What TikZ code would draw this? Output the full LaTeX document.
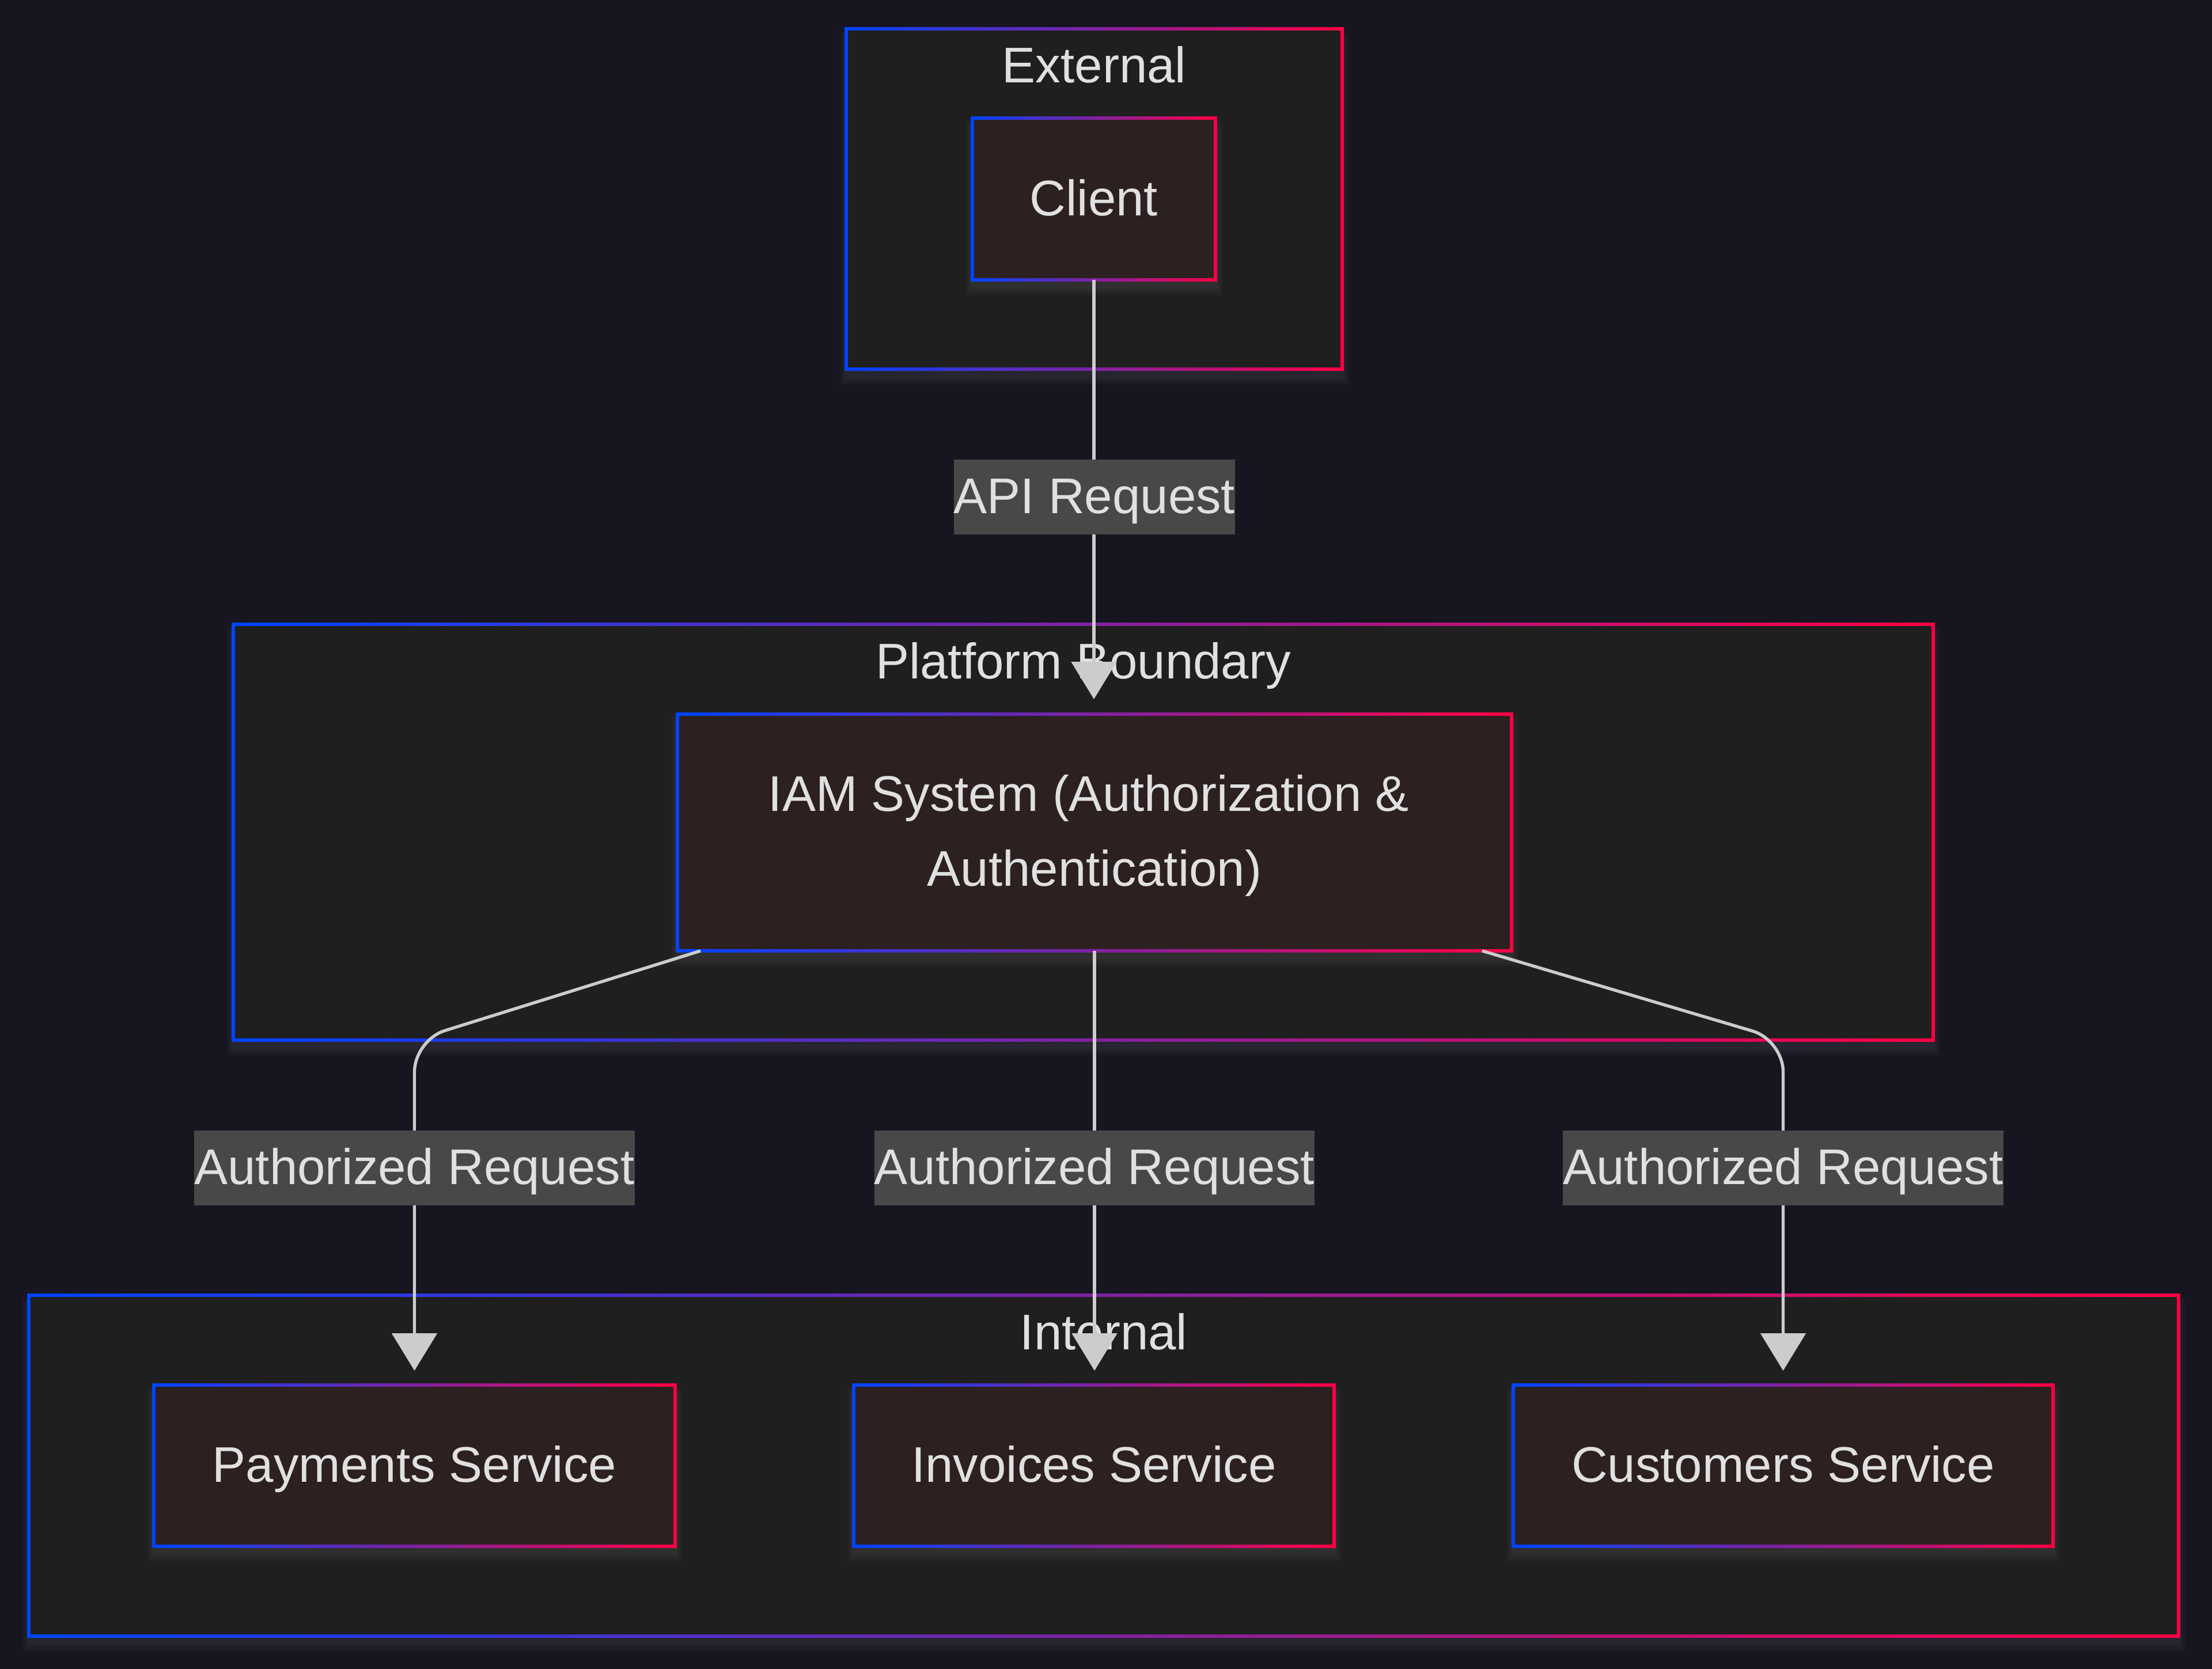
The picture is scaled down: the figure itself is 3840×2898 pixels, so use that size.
\documentclass[tikz,border=0pt]{standalone}
\usepackage{fontspec}
\setmainfont{Liberation Sans}
\usetikzlibrary{arrows.meta}
\pgfdeclarelayer{bgl}
\pgfdeclarelayer{clusterl}
\pgfdeclarelayer{nodel}
\pgfsetlayers{bgl,clusterl,nodel,main}
\definecolor{bgc}{HTML}{161520}
\definecolor{clfill}{HTML}{1F1F1F}
\definecolor{ndfill}{HTML}{2C2020}
\definecolor{lblfill}{HTML}{474949}
\definecolor{txtc}{HTML}{E0E0E0}
\definecolor{edgec}{HTML}{CCCCCC}
\definecolor{gblue}{HTML}{0044FF}
\definecolor{gred}{HTML}{FF0044}
\newcommand{\gbox}[2]{%
  \foreach \k in {1,...,8}{\fill[white,opacity=0.012] ([shift={(-1.5pt*\k,2pt*\k-20pt)}]#1.north west) rectangle ([shift={(1.5pt*\k,-2pt*\k-12pt)}]#1.south east);}
  \shade[left color=gblue,right color=gred] ([shift={(-2.75pt,2.75pt)}]#1.north west) rectangle ([shift={(2.75pt,-2.75pt)}]#1.south east);
  \fill[#2] ([shift={(2.75pt,-2.75pt)}]#1.north west) rectangle ([shift={(-2.75pt,2.75pt)}]#1.south east);
}
\tikzset{
  basefont/.style={font=\fontsize{87}{130}\selectfont, text=txtc},
  boxnode/.style={basefont, rectangle, inner sep=0pt, outer sep=0pt, text height=62pt, text depth=5pt},
  clusternode/.style={rectangle, inner sep=0pt, outer sep=0pt},
  titletext/.style={basefont, inner sep=0pt, anchor=base},
  lbl/.style={basefont, fill=lblfill, inner sep=0pt, text height=93pt, text depth=37pt},
  edge/.style={draw=edgec, line width=5.4pt, -{Triangle[width=78pt,length=65pt]}},
}
\begin{document}
\begin{tikzpicture}[x=1pt,y=-1pt]
\begin{pgfonlayer}{bgl}
\fill[bgc] (0,0) rectangle (3840,2898);
\end{pgfonlayer}
\useasboundingbox (0,0) rectangle (3840,2898);

% clusters
\node[clusternode, minimum width=861pt, minimum height=591pt] (ext) at (1899.5,345.5) {};
\node[clusternode, minimum width=2951pt, minimum height=722pt] (plat) at (1880.5,1445) {};
\node[clusternode, minimum width=3732pt, minimum height=592pt] (int) at (1916,2545) {};
\begin{pgfonlayer}{clusterl}
\gbox{ext}{clfill}
\gbox{plat}{clfill}
\gbox{int}{clfill}
\end{pgfonlayer}
\node[titletext] (extT) at ([yshift=-93.5pt]ext.north) {External};
\node[titletext] (platT) at ([yshift=-94pt]plat.north) {Platform Boundary};
\node[titletext] (intT) at ([yshift=-94pt]int.north) {Internal};

% nodes
\node[boxnode, minimum width=422pt, minimum height=281pt] (client) at (1899,345.5) {Client};
\node[boxnode, minimum width=1448pt, minimum height=411pt] (iam) at (1900,1445.5) {};
\node[boxnode, minimum width=905pt, minimum height=280pt] (pay) at (719.5,2545) {Payments Service};
\node[boxnode, minimum width=834pt, minimum height=280pt] (inv) at (1899,2545) {Invoices Service};
\node[boxnode, minimum width=937pt, minimum height=280pt] (cus) at (3095.5,2545) {Customers Service};
\node[titletext] (iamA) at ([xshift=-10pt,yshift=37.5pt]iam.center) {IAM System (Authorization \&};
\node[titletext] (iamB) at ([yshift=-92.5pt]iam.center) {Authentication)};
\begin{pgfonlayer}{nodel}
\gbox{client}{ndfill}
\gbox{iam}{ndfill}
\gbox{pay}{ndfill}
\gbox{inv}{ndfill}
\gbox{cus}{ndfill}
\end{pgfonlayer}

% edges
\coordinate (ls) at ([xshift=40pt]iam.south west);
\coordinate (rs) at ([xshift=-51pt]iam.south east);
\coordinate (lc) at (pay.north |- plat.south);
\coordinate (rc) at (cus.north |- plat.south);
\coordinate (ly) at (0,2028);
\draw[edge, shorten >=26pt] (client.south) -- (client.south |- iam.north);
\draw[edge, rounded corners=55pt, shorten >=25pt] (ls) -- (lc) -- (pay.north);
\draw[edge, shorten >=25pt] (iam.south) -- (iam.south |- inv.north);
\draw[edge, rounded corners=55pt, shorten >=25pt] (rs) -- (rc) -- (cus.north);

% labels
\node[lbl] (l1) at (1900,863) {API Request};
\node[lbl] (l2) at (pay.north |- ly) {Authorized Request};
\node[lbl] (l3) at (iam.south |- ly) {Authorized Request};
\node[lbl] (l4) at (cus.north |- ly) {Authorized Request};
\end{tikzpicture}
\end{document}
